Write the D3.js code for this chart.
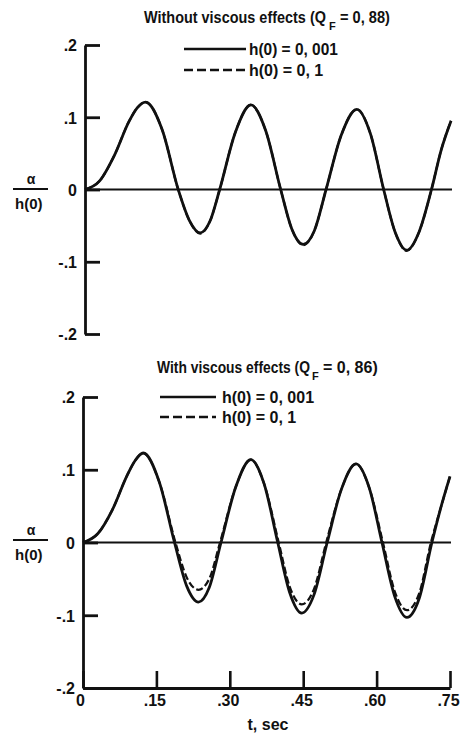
<!DOCTYPE html>
<html><head><meta charset="utf-8">
<script src="https://cdn.jsdelivr.net/npm/d3@7"></script>
<style>
body{margin:0;background:#fff}
svg{display:block}
text{font-family:"Liberation Sans",Arial,sans-serif;font-weight:bold;fill:#111}
</style>
</head><body>
<svg id="c" width="463" height="735"></svg>
<script>
// ---- data ----
const xTicks = [0, 0.15, 0.30, 0.45, 0.60, 0.75];
const xTickLabels = ["0", ".15", ".30", ".45", ".60", ".75"];
const yTicks = [0.2, 0.1, 0, -0.1, -0.2];
const yTickLabels = [".2", ".1", "0", "-.1", "-.2"];
const legendLabels = ["h(0) = 0, 001", "h(0) = 0, 1"];
const titleMain = ["Without viscous effects (Q", "With viscous effects (Q"];
const titleSub = "F";
const titleTail = ["= 0, 88)", "= 0, 86)"];
const xAxisTitle = "t, sec";

const timeTop = [0, 0.03, 0.06, 0.09, 0.107, 0.124, 0.158, 0.191, 0.214, 0.236, 0.256, 0.276, 0.308, 0.340, 0.370, 0.401, 0.424, 0.447, 0.470, 0.494, 0.525, 0.557, 0.585, 0.612, 0.636, 0.659, 0.685, 0.710, 0.730, 0.750];
const alphaTopSmall = [0, 0.012, 0.047, 0.094, 0.113, 0.121, 0.083, 0, -0.043, -0.060, -0.044, 0, 0.079, 0.117, 0.082, 0, -0.055, -0.076, -0.057, 0, 0.075, 0.111, 0.077, 0, -0.060, -0.084, -0.058, 0, 0.055, 0.095];
const alphaTopLarge = [0, 0.012, 0.047, 0.094, 0.113, 0.121, 0.083, 0, -0.043, -0.061, -0.044, 0, 0.079, 0.117, 0.082, 0, -0.055, -0.077, -0.057, 0, 0.075, 0.111, 0.077, 0, -0.060, -0.085, -0.058, 0, 0.055, 0.095];

const timeBottom = [0, 0.03, 0.06, 0.09, 0.107, 0.123, 0.156, 0.187, 0.212, 0.236, 0.258, 0.282, 0.312, 0.343, 0.370, 0.398, 0.422, 0.447, 0.472, 0.499, 0.528, 0.558, 0.585, 0.611, 0.637, 0.662, 0.687, 0.713, 0.730, 0.750];
const alphaBottomSmall = [0, 0.012, 0.045, 0.092, 0.113, 0.123, 0.083, 0, -0.060, -0.082, -0.062, 0, 0.076, 0.114, 0.081, 0, -0.068, -0.097, -0.072, 0, 0.073, 0.108, 0.075, 0, -0.074, -0.103, -0.077, 0, 0.045, 0.091];
const timeBottomLarge = [0, 0.03, 0.06, 0.09, 0.107, 0.123, 0.156, 0.189, 0.212, 0.236, 0.258, 0.280, 0.312, 0.343, 0.370, 0.400, 0.422, 0.447, 0.472, 0.497, 0.528, 0.558, 0.585, 0.613, 0.637, 0.662, 0.687, 0.711, 0.730, 0.750];
const alphaBottomLarge = [0, 0.012, 0.045, 0.092, 0.113, 0.123, 0.083, 0, -0.048, -0.065, -0.050, 0, 0.076, 0.114, 0.081, 0, -0.060, -0.085, -0.064, 0, 0.073, 0.108, 0.075, 0, -0.067, -0.093, -0.070, 0, 0.045, 0.091];

// ---- layout ----
const svg = d3.select("#c");
const ink = "#111";

// text squeezed horizontally to a target width with a transform
function fitText(str, x, y, size, width) {
  const t = svg.append("text").attr("font-size", size).text(str);
  const w = t.node().getComputedTextLength();
  const k = Math.min(1, width / w);
  t.attr("transform", `translate(${x},${y}) scale(${k},1)`);
  return t;
}

const panels = [
  {x0:85, x1:451, yTop:45, yBot:334, t:timeTop, s:alphaTopSmall, tl:timeTop, l:alphaTopLarge,
   title:{x:144, w:182, fx:329, tx:340, tw:50, y:23},
   leg:{lx0:184, lx1:246, tx:249, y1:49, y2:70, w1:89, w2:76},
   ylab:{y:189}, xaxis:false},
  {x0:83, x1:450, yTop:397, yBot:688, t:timeBottom, s:alphaBottomSmall, tl:timeBottomLarge, l:alphaBottomLarge,
   title:{x:157, w:153, fx:312, tx:323, tw:57, y:373},
   leg:{lx0:160, lx1:216, tx:222, y1:397, y2:417, w1:93, w2:78},
   ylab:{y:540}, xaxis:true}
];

panels.forEach((p, idx) => {
  const x = d3.scaleLinear().domain([0, 0.75]).range([p.x0, p.x1]);
  const y = d3.scaleLinear().domain([-0.2, 0.2]).range([p.yBot, p.yTop]);
  const g = svg.append("g");

  // zero line
  g.append("line").attr("x1", x(0)).attr("x2", x(0.75) + 1)
    .attr("y1", y(0)).attr("y2", y(0))
    .attr("stroke", ink).attr("stroke-width", 2.2);

  // y axis
  const ya = g.append("g").attr("transform", `translate(${x(0)},0)`)
    .call(d3.axisLeft(y).tickValues(yTicks).tickFormat((d, i) => yTickLabels[i])
      .tickSizeInner(-15).tickSizeOuter(0).tickPadding(8));
  ya.attr("font-size", 16).attr("font-family", null);
  ya.select(".domain").attr("stroke", ink).attr("stroke-width", 2.8);
  ya.selectAll(".tick line").attr("stroke", ink).attr("stroke-width", 2.8);
  ya.selectAll(".tick text").attr("fill", ink).attr("dy", "0.36em");

  // x axis (bottom panel only)
  if (p.xaxis) {
    const xa = g.append("g").attr("transform", `translate(0,${y(-0.2)})`)
      .call(d3.axisBottom(x).tickValues(xTicks).tickFormat((d, i) => xTickLabels[i])
        .tickSizeInner(-17).tickSizeOuter(0).tickPadding(7));
    xa.attr("font-size", 16).attr("font-family", null);
    xa.select(".domain").attr("stroke", ink).attr("stroke-width", 2.8);
    xa.selectAll(".tick line").attr("stroke", ink).attr("stroke-width", 2.6);
    xa.selectAll(".tick text").attr("fill", ink).attr("dx", (d, i) => i === 0 ? -3 : -2);
    svg.append("text").attr("x", 268).attr("y", 730).attr("text-anchor", "middle")
      .attr("font-size", 16).text(xAxisTitle);
  }

  // curves
  const lineS = d3.line().x((d, i) => x(p.t[i])).y(d => y(d)).curve(d3.curveMonotoneX);
  const lineL = d3.line().x((d, i) => x(p.tl[i])).y(d => y(d)).curve(d3.curveMonotoneX);
  g.append("path").attr("d", lineS(p.s)).attr("fill", "none")
    .attr("stroke", ink).attr("stroke-width", 2.8).attr("stroke-linejoin", "round");
  g.append("path").attr("d", lineL(p.l)).attr("fill", "none")
    .attr("stroke", ink).attr("stroke-width", 2.2).attr("stroke-dasharray", "7,3");

  // title (three pieces)
  const T = p.title;
  fitText(titleMain[idx], T.x, T.y, 16, T.w);
  svg.append("text").attr("x", T.fx).attr("y", T.y + 7).attr("font-size", 11).text(titleSub);
  fitText(titleTail[idx], T.tx, T.y, 16, T.tw);

  // legend
  const L = p.leg;
  svg.append("line").attr("x1", L.lx0).attr("x2", L.lx1).attr("y1", L.y1).attr("y2", L.y1)
    .attr("stroke", ink).attr("stroke-width", 2.4);
  svg.append("line").attr("x1", L.lx0).attr("x2", L.lx1).attr("y1", L.y2).attr("y2", L.y2)
    .attr("stroke", ink).attr("stroke-width", 2.4).attr("stroke-dasharray", "9,4");
  fitText(legendLabels[0], L.tx, L.y1 + 6, 16, L.w1);
  fitText(legendLabels[1], L.tx, L.y2 + 6, 16, L.w2);

  // y label (fraction)
  const yl = p.ylab.y;
  svg.append("text").attr("x", 31).attr("y", yl - 5).attr("text-anchor", "middle")
    .attr("font-size", 14).text("α");
  svg.append("line").attr("x1", 13).attr("x2", 48).attr("y1", yl).attr("y2", yl)
    .attr("stroke", ink).attr("stroke-width", 2);
  fitText("h(0)", 15, yl + 20, 15, 28);
});
</script>
</body></html>
